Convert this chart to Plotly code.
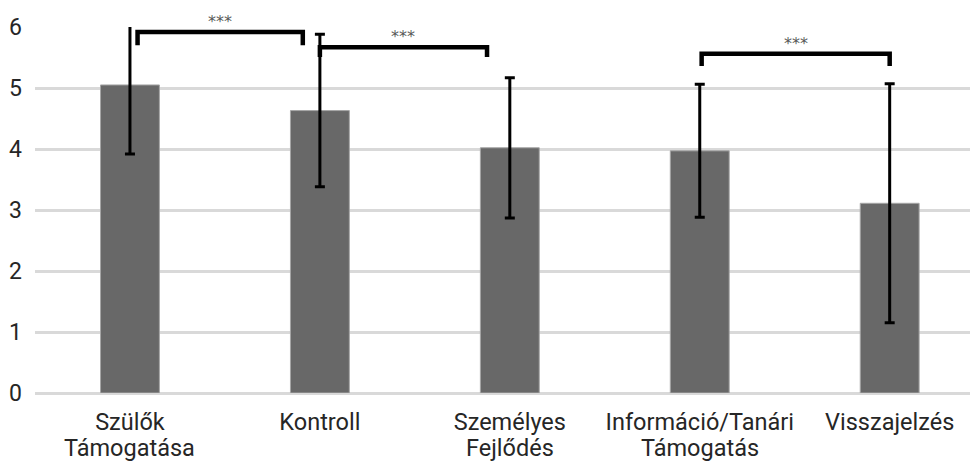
import plotly.graph_objects as go

categories = ["Szülők<br>Támogatása", "Kontroll", "Személyes<br>Fejlődés",
              "Információ/Tanári<br>Támogatás", "Visszajelzés"]
means = [5.05, 4.63, 4.02, 3.97, 3.11]
sds = [1.13, 1.25, 1.15, 1.09, 1.96]
y_ticks = [0, 1, 2, 3, 4, 5, 6]

# significance brackets: (left category offset, right category offset, top, leg bottom, label)
br_left = [0.04, 1.0, 3.01]
br_right = [0.91, 1.88, 4.0]
br_top = [5.92, 5.67, 5.56]
br_bottom = [5.70, 5.51, 5.36]
br_label = ["***", "***", "***"]

x_idx = list(range(len(categories)))
first_lines = [c.split("<br>")[0] for c in categories]
second_lines = [c.split("<br>")[1] if "<br>" in c else "" for c in categories]

LABEL_FONT = dict(size=23.5, color="#262626", family="Roboto")

fig = go.Figure()
fig.add_trace(go.Bar(
    x=x_idx, y=means, width=0.31,
    marker=dict(color="#686868", line=dict(color="#a6a6a6", width=1)),
    error_y=dict(type="data", array=sds, visible=True, color="#000000",
                 thickness=3, width=5),
))

for l, r, t, b, lab in zip(br_left, br_right, br_top, br_bottom, br_label):
    fig.add_trace(go.Scatter(
        x=[l, l, r, r], y=[b, t, t, b], mode="lines",
        line=dict(color="#000000", width=4.5),
        hoverinfo="skip", showlegend=False, cliponaxis=False,
    ))
    fig.add_annotation(x=(l + r) / 2, y=t, text=lab, showarrow=False,
                       yanchor="bottom", yshift=-1,
                       font=dict(size=16, color="#595959", family="DejaVu Sans"))

for xi, line2 in zip(x_idx, second_lines):
    if line2:
        fig.add_annotation(x=xi, y=0, yref="paper", text=line2, showarrow=False,
                           yanchor="top", yshift=-39, font=LABEL_FONT)

fig.update_layout(
    width=970, height=454,
    margin=dict(l=27, r=0, t=19, b=69),
    paper_bgcolor="white", plot_bgcolor="white",
    showlegend=False,
    font=dict(family="Roboto", color="#262626"),
)
fig.update_xaxes(
    range=[-0.5, 4.465], tickvals=x_idx, ticktext=first_lines,
    showgrid=False, showline=False, zeroline=False, automargin=False,
    tickfont=LABEL_FONT, ticks="", ticklabelstandoff=12,
)
fig.update_yaxes(
    range=[0, 6], tickvals=y_ticks, showgrid=True, gridcolor="#d9d9d9",
    gridwidth=2.5, zeroline=True, zerolinecolor="#d9d9d9", zerolinewidth=2.5,
    showline=False, ticks="", ticklabelstandoff=12, automargin=False,
    tickfont=dict(size=23, color="#262626", family="Roboto"),
)

fig.write_html("out.html")
